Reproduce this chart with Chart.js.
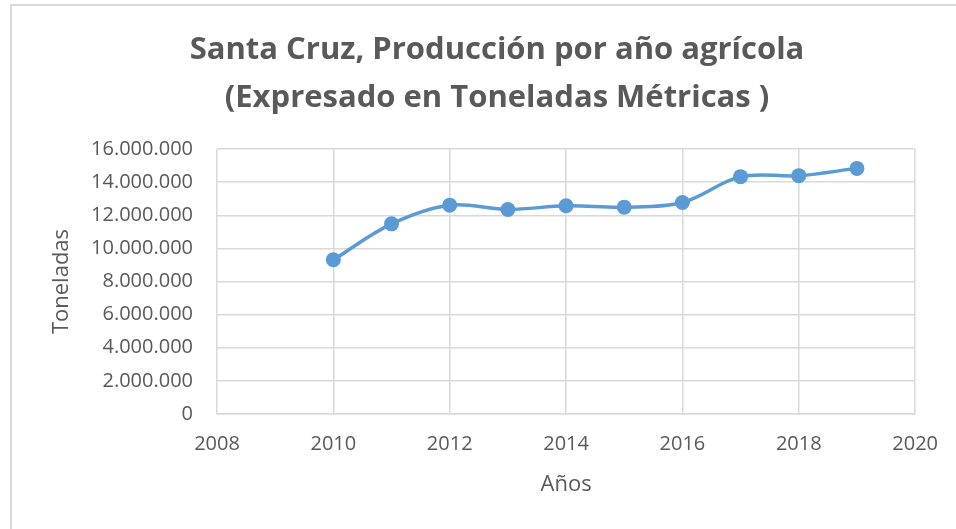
<!DOCTYPE html>
<html>
<head>
<meta charset="utf-8">
<script src="https://cdn.jsdelivr.net/npm/chart.js@4"></script>
<style>
  html, body { margin: 0; padding: 0; background: #fff; }
  #wrap { position: relative; width: 956px; height: 529px; overflow: hidden; }
  #frame { position: absolute; left: 10px; top: 4px; width: 1000px; height: 600px;
           border-left: 2px solid #d9d9d9; border-top: 2px solid #d9d9d9; }
  canvas { position: absolute; left: 0; top: 0; }
</style>
</head>
<body>
<div id="wrap">
  <div id="frame"></div>
  <canvas id="chart" width="956" height="529"></canvas>
</div>
<script>
// data
const years = [2010, 2011, 2012, 2013, 2014, 2015, 2016, 2017, 2018, 2019];
const toneladas = [9310000, 11480000, 12610000, 12350000, 12570000, 12490000, 12770000, 14330000, 14390000, 14830000];

const titleLines = ['Santa Cruz, Producción por año agrícola', '(Expresado en Toneladas Métricas )'];
const xTitle = 'Años';
const yTitle = 'Toneladas';

const gray = '#595959';
const gridColor = '#d9d9d9';
const blue = '#5b9bd5';
const tickFont = { family: "'Open Sans', sans-serif", size: 20 };

// 16000000 -> 16.000.000
function withDots(v) {
    return String(Math.round(v)).replace(/\B(?=(\d{3})+(?!\d))/g, '.');
}

const ctx = document.getElementById('chart').getContext('2d');

new Chart(ctx, {
    type: 'line',
    data: {
        datasets: [{
            label: 'Producción',
            data: years.map((y, i) => ({ x: y, y: toneladas[i] })),
            borderColor: blue,
            backgroundColor: blue,
            borderWidth: 3.5,
            pointRadius: 7.5,
            pointBorderWidth: 0,
            fill: false,
            tension: 0.35
        }]
    },
    options: {
        responsive: false,
        animation: false,
        layout: { padding: { left: 38, right: 0, top: 10, bottom: 20 } },
        plugins: {
            legend: { display: false },
            tooltip: { enabled: false },
            title: {
                display: true,
                text: titleLines,
                color: gray,
                font: { family: "'Open Sans', sans-serif", size: 31, weight: 'bold', lineHeight: 48 / 31 },
                padding: { top: 16, bottom: 27 }
            }
        },
        scales: {
            x: {
                type: 'linear',
                min: 2008,
                max: 2020,
                ticks: { stepSize: 2, color: gray, font: tickFont, padding: 18, callback: v => String(v) },
                grid: { color: gridColor, lineWidth: 1.5, drawTicks: false },
                border: { color: gridColor, width: 1.5 },
                title: {
                    display: true, text: xTitle, color: gray,
                    font: { family: "'Open Sans', sans-serif", size: 22, lineHeight: 24 / 22 },
                    padding: { top: 12, bottom: 12 }
                },
                afterFit: s => { s.height = 95; }
            },
            y: {
                min: 0,
                max: 16000000,
                ticks: { stepSize: 2000000, color: gray, font: tickFont, padding: 24, callback: v => withDots(v) },
                grid: { color: gridColor, lineWidth: 1.5, drawTicks: false },
                border: { display: false },
                title: {
                    display: true, text: yTitle, color: gray,
                    font: { family: "'Open Sans', sans-serif", size: 22, lineHeight: 24 / 22 },
                    padding: { top: 12, bottom: 12 }
                },
                afterFit: s => { s.width = 179; }
            },
            // empty box on the right so the chart area ends where the reference does
            spacer: {
                type: 'linear',
                position: 'right',
                display: true,
                ticks: { display: false },
                grid: { display: false },
                border: { display: false },
                afterFit: s => { s.width = 39; }
            }
        }
    }
});
</script>
</body>
</html>
